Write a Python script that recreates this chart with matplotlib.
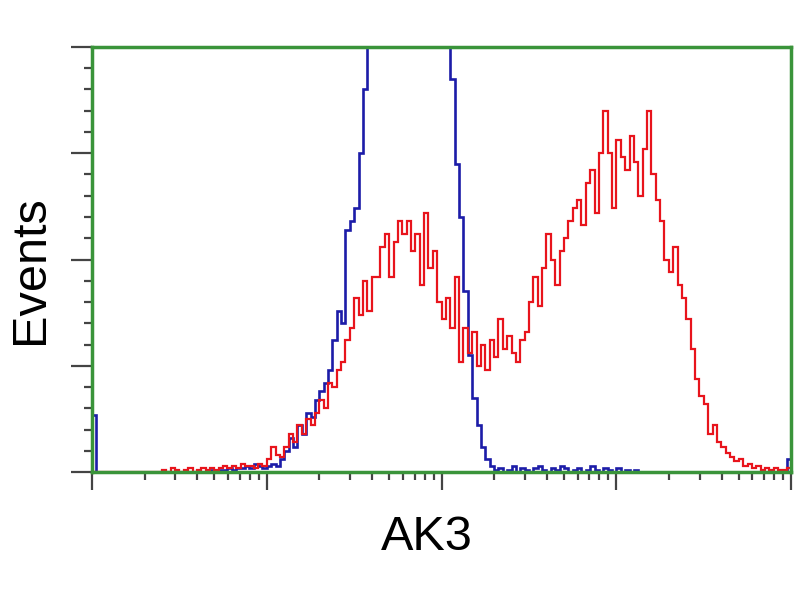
import numpy as np
import matplotlib.pyplot as plt
from matplotlib.ticker import MultipleLocator, LogLocator, NullFormatter

# histogram counts, 160 channels over 4 log decades (1 .. 10^4)
red = ([0] * 16 +
       [1, 0, 2, 1, 0, 1, 2, 0, 1, 2, 1, 2, 1, 2, 3, 2, 3, 2, 4, 3] +
       [3, 2, 4, 3] +
       [6, 12, 8, 7, 12, 18, 14, 22, 18, 25, 22, 28, 34, 30, 42, 40, 48, 52, 62, 68] +
       [82, 74, 90, 76, 92, 92, 106, 112, 92, 108, 118, 112, 118, 104, 112, 88, 122, 96, 104, 80] +
       [72, 82, 68, 92, 52, 68, 56, 66, 50, 60, 48, 62, 54, 72, 58, 64, 56, 52, 62, 66] +
       [80, 92, 78, 96, 112, 100, 88, 104, 110, 118, 124, 128, 116, 136, 142, 122, 150, 170, 150, 124] +
       [156, 148, 142, 158, 146, 130, 152, 170, 140, 128, 118, 100, 94, 106, 88, 82, 72, 58, 44, 36] +
       [32, 18, 22, 14, 12, 9, 7, 5, 6, 3, 4, 2, 3, 1, 2, 1, 2, 1, 1, 2])

blue = ([27] + [0] * 26 +
        [1, 0, 1, 1, 2, 1, 2, 2, 3, 2, 4, 3, 2] +
        [3, 4, 3, 6, 10, 16, 12, 22, 18, 28, 26, 34, 38, 42, 48, 62, 76, 70, 114, 118] +
        [124, 150, 180] + [260] * 18 +
        [205, 185, 145, 120, 85, 55, 35, 22, 12, 6, 3, 1] +
        [2, 0, 1, 3, 0, 2, 1, 0, 2, 3, 1, 0, 2, 1, 3, 2, 0, 1, 2, 0, 1, 3, 1, 0, 2, 1, 0, 2, 0, 1, 0, 1, 0] +
        [0] * 33 + [6])

edges = np.logspace(0, 4, 161)

fig = plt.figure(figsize=(8, 6), dpi=100)
ax = fig.add_axes([0.115, 0.2133, 0.874, 0.7084])

ax.stairs(blue, edges, color='#1c1ca8', lw=1.9)
ax.stairs(red, edges, color='#e8141c', lw=1.6)

ax.set_xscale('log')
ax.set_xlim(1, 1e4)
ax.set_ylim(0, 200)

for s in ax.spines.values():
    s.set_color('#3a943a')
    s.set_linewidth(2.5)

ax.yaxis.set_major_locator(MultipleLocator(50))
ax.yaxis.set_minor_locator(MultipleLocator(10))
ax.xaxis.set_major_locator(LogLocator(base=10, numticks=10))
ax.xaxis.set_minor_locator(LogLocator(base=10, subs=np.arange(2, 10), numticks=20))
ax.xaxis.set_major_formatter(NullFormatter())
ax.xaxis.set_minor_formatter(NullFormatter())
ax.yaxis.set_major_formatter(NullFormatter())

ax.tick_params(axis='y', which='major', direction='out', length=15, width=1.6, color='#444444')
ax.tick_params(axis='y', which='minor', direction='out', length=6, width=1.6, color='#444444')
ax.tick_params(axis='x', which='major', direction='out', length=13, width=1.6, color='#444444')
ax.tick_params(axis='x', which='minor', direction='out', length=6, width=1.6, color='#444444')

fig.text(0.038, 0.55, 'Events', rotation=90, ha='center', va='center',
         fontsize=35, family='Liberation Sans')
fig.text(0.534, 0.105, 'AK3', ha='center', va='center',
         fontsize=35, family='Liberation Sans')

fig.savefig('out.png', dpi=100)
